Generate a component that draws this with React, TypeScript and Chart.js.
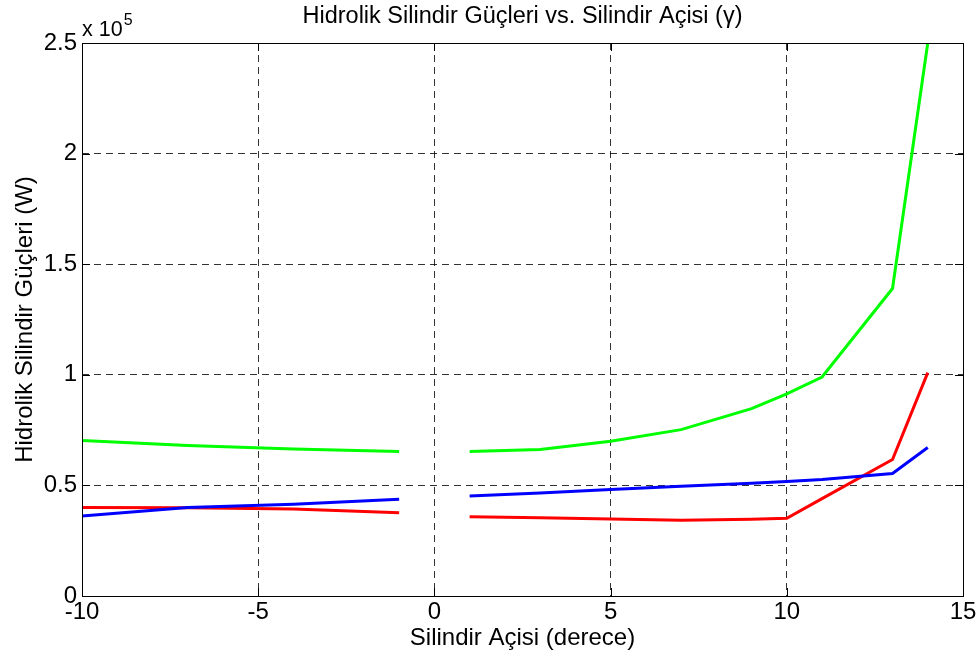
import React, { useEffect, useRef } from "react";
import { Chart, registerables } from "chart.js";

Chart.register(...registerables);

// Angles (degrees)
const leftAngles = [-10, -7, -4, -1];
const rightAngles = [1, 3, 5, 7, 9, 10, 11, 13, 14];

// Powers (W)
const greenLeft = [70300, 68000, 66400, 65300];
const greenRight = [65300, 66200, 70000, 75200, 84700, 91400, 99000, 139000, 250000];
const redLeft = [40000, 39900, 39300, 37600];
const redRight = [35800, 35400, 34800, 34200, 34700, 35100, 44000, 61700, 101000];
const blueLeft = [36200, 40000, 41500, 43700];
const blueRight = [45200, 46600, 48200, 49600, 51000, 51800, 52700, 55400, 67100];

const xTicks = [-10, -5, 0, 5, 10, 15];
const yTicks = [0, 50000, 100000, 150000, 200000, 250000];

const titleText = "Hidrolik Silindir Güçleri vs. Silindir Açisi (γ)";
const xLabel = "Silindir Açisi (derece)";
const yLabel = "Hidrolik Silindir Güçleri (W)";

const FONT = "'Liberation Sans', Arial, Helvetica, sans-serif";

function pts(xs: number[], ys: number[]) {
  return xs.map((x, i) => ({ x, y: ys[i] }));
}

const decorPlugin = {
  id: "decor",
  afterDraw(chart: any) {
    const { ctx, chartArea } = chart;
    const { left, right, top, bottom } = chartArea;
    const xs = chart.scales.x;
    const ys = chart.scales.y;
    ctx.save();
    // box
    ctx.strokeStyle = "#000";
    ctx.lineWidth = 1;
    ctx.setLineDash([]);
    ctx.strokeRect(Math.round(left) + 0.5, Math.round(top) + 0.5, Math.round(right - left), Math.round(bottom - top));
    // inward ticks
    const tl = 8;
    ctx.beginPath();
    xTicks.forEach((v) => {
      const px = Math.round(xs.getPixelForValue(v)) + 0.5;
      ctx.moveTo(px, bottom);
      ctx.lineTo(px, bottom - tl);
      ctx.moveTo(px, top);
      ctx.lineTo(px, top + tl);
    });
    yTicks.forEach((v) => {
      const py = Math.round(ys.getPixelForValue(v)) + 0.5;
      ctx.moveTo(left, py);
      ctx.lineTo(left + tl, py);
      ctx.moveTo(right, py);
      ctx.lineTo(right - tl, py);
    });
    ctx.stroke();

    ctx.fillStyle = "#000";
    const cx = (left + right) / 2;
    // title
    ctx.font = `23.5px ${FONT}`;
    ctx.textAlign = "center";
    ctx.textBaseline = "alphabetic";
    ctx.fillText(titleText, cx, 23);
    // x label
    ctx.font = `24px ${FONT}`;
    ctx.fillText(xLabel, cx, 645);
    // y label
    ctx.save();
    ctx.translate(32, (top + bottom) / 2);
    ctx.rotate(-Math.PI / 2);
    ctx.fillText(yLabel, 0, 0);
    ctx.restore();
    // exponent
    ctx.textAlign = "left";
    ctx.font = `21.5px ${FONT}`;
    ctx.fillText("x 10", left, 36);
    const w = ctx.measureText("x 10").width;
    ctx.font = `16px ${FONT}`;
    ctx.fillText("5", left + w + 1, 25);
    ctx.restore();
  },
};

export default function App() {
  const ref = useRef<HTMLCanvasElement>(null);
  useEffect(() => {
    document.body.style.margin = "0";
    const canvas = ref.current!;
    const gridColor = "rgba(0,0,0,0.8)";
    const chart = new Chart(canvas, {
      type: "line",
      data: {
        datasets: [
          { data: pts(leftAngles, blueLeft), borderColor: "#0000ff" },
          { data: pts(rightAngles, blueRight), borderColor: "#0000ff" },
          { data: pts(leftAngles, redLeft), borderColor: "#ff0000" },
          { data: pts(rightAngles, redRight), borderColor: "#ff0000" },
          { data: pts(leftAngles, greenLeft), borderColor: "#00ff00" },
          { data: pts(rightAngles, greenRight), borderColor: "#00ff00" },
        ].map((d) => ({
          ...d,
          borderWidth: 3,
          pointRadius: 0,
          fill: false,
          tension: 0,
        })),
      },
      options: {
        responsive: false,
        animation: false,
        devicePixelRatio: 1,
        layout: { padding: { left: 0, top: 43, right: 16, bottom: 0 } },
        plugins: {
          legend: { display: false },
          title: { display: false },
          tooltip: { enabled: false },
        },
        scales: {
          x: {
            type: "linear",
            min: -10,
            max: 15,
            afterBuildTicks: (s: any) => {
              s.ticks = xTicks.map((v) => ({ value: v }));
            },
            afterFit: (s: any) => {
              s.height = 60;
            },
            ticks: {
              color: "#000",
              font: { family: FONT, size: 24 },
              padding: 2,
              maxRotation: 0,
              autoSkip: false,
            },
            grid: { color: gridColor, lineWidth: 1, drawTicks: false },
            border: { display: false, dash: [7, 5] },
          },
          y: {
            type: "linear",
            min: 0,
            max: 250000,
            afterBuildTicks: (s: any) => {
              s.ticks = yTicks.map((v) => ({ value: v }));
            },
            afterFit: (s: any) => {
              s.width = 82;
            },
            ticks: {
              color: "#000",
              font: { family: FONT, size: 24 },
              padding: 5,
              autoSkip: false,
              callback: (v: any) => String(Number(v) / 100000),
            },
            grid: { color: gridColor, lineWidth: 1, drawTicks: false },
            border: { display: false, dash: [7, 5] },
          },
        },
      },
      plugins: [decorPlugin],
    } as any);
    return () => chart.destroy();
  }, []);
  return (
    <div style={{ position: "absolute", left: 0, top: 0, width: 979, height: 656, background: "#fff" }}>
      <canvas ref={ref} width={979} height={656} />
    </div>
  );
}
